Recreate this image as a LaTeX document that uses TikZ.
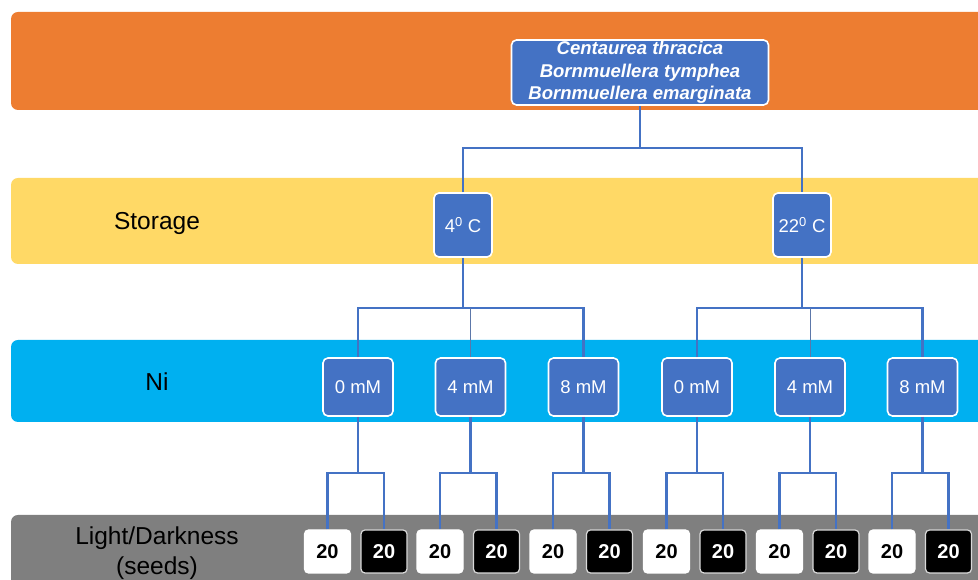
\documentclass[tikz,border=0pt]{standalone}
\usepackage{fontspec}
\setmainfont{Liberation Sans}
\usetikzlibrary{positioning}
\definecolor{bandorange}{HTML}{ED7D31}
\definecolor{bandyellow}{HTML}{FFD966}
\definecolor{bandcyan}{HTML}{00B0F0}
\definecolor{bandgray}{HTML}{7F7F7F}
\definecolor{boxblue}{HTML}{4472C4}
\tikzset{
  band/.style={rounded corners=7pt},
  bandlabel/.style={text=black, align=center, font=\fontsize{24.5}{29.5}\selectfont},
  box/.style={draw=white, line width=1.6pt, fill=boxblue, rounded corners=5pt,
    text=white, inner sep=0pt, minimum width=58pt, minimum height=64pt,
    font=\fontsize{18.5}{21}\selectfont},
  topbox/.style={box, minimum width=257pt, minimum height=65pt, align=center,
    font=\bfseries\itshape\fontsize{18.5}{22.5}\selectfont},
  nibox/.style={box, minimum width=70pt, minimum height=58pt},
  seedw/.style={draw=white, line width=1.2pt, fill=white, rounded corners=4pt,
    inner sep=0pt, minimum width=46pt, minimum height=43pt,
    font=\bfseries\fontsize{20}{22}\selectfont},
  seedb/.style={seedw, fill=black, text=white, draw=white!85!black},
  link/.style={draw=boxblue, line width=2.8pt},
  thinlink/.style={draw=boxblue!60!gray, line width=0.8pt},
}
\begin{document}
\begin{tikzpicture}[x=1pt,y=1pt]
    \useasboundingbox (0,0) rectangle (978,580);
    \clip (0,0) rectangle (978,580);
    % bands
    \fill[band,bandorange] (11,470) rectangle (1000,568);
    \fill[band,bandyellow] (11,316) rectangle (1000,402);
    \fill[band,bandcyan] (11,158) rectangle (1000,240);
    \fill[band,bandgray] (11,-20) rectangle (1000,65);
    \node[bandlabel] (lstore) at (157,357) {Storage};
    \node[bandlabel] (lni) at (157,198) {Ni};
    \node[bandlabel] (llight) at (157,27) {Light/Darkness\\(seeds)};
    % species
    \node[topbox] (sp) at (640,507.5) {Centaurea thracica\\Bornmuellera tymphea\\Bornmuellera emarginata};
    % storage
    \node[box] (c4) at (463,355) {4\textsuperscript{0} C};
    \node[box] (c22) at (802,355) {22\textsuperscript{0} C};
    \coordinate (j0) at (640,432);
    \draw[link] (sp.south) -- (j0);
    \draw[link] (c4.north) |- (j0) -| (c22.north);
    % nickel
    \foreach \x/\t [count=\i] in {358/0,470.5/4,583.5/8,697/0,810/4,922.5/8}
        \node[nibox] (n\i) at (\x,193) {\t\ mM};
    \coordinate (k4) at (463,272);
    \coordinate (k22) at (802,272);
    \draw[link] (c4.south) -- (k4);
    \draw[link] (c22.south) -- (k22);
    \draw[link] (n1.north) |- (k4) -| (n3.north);
    \draw[link] (n4.north) |- (k22) -| (n6.north);
    \draw[thinlink] (n2.north) -- (n2.north |- k4);
    \draw[thinlink] (n5.north) -- (n5.north |- k22);
    % seeds
    \foreach \i in {1,...,6}{
        \node[seedw] (w\i) at ([xshift=-30.5pt]n\i.center |- 0,28.5) {20};
        \node[seedb] (b\i) at ([xshift=26pt]n\i.center |- 0,28.5) {20};
        \coordinate (s\i) at (n\i.south |- 0,107);
        \draw[link] (n\i.south) -- (s\i);
        \draw[link] (w\i.north) |- (s\i) -| (b\i.north);
    }
\end{tikzpicture}
\end{document}
